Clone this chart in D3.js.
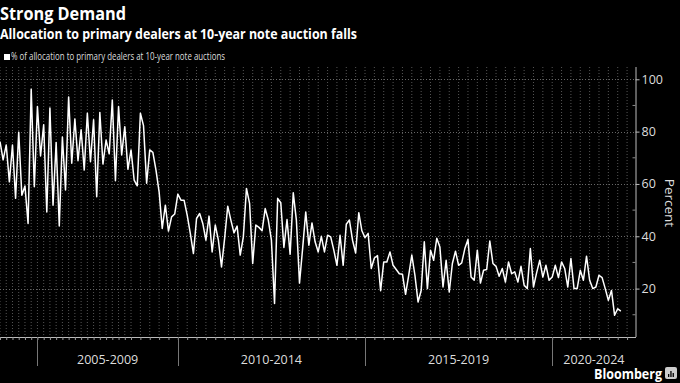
<!DOCTYPE html>
<html>
<head>
<meta charset="utf-8">
<script src="https://cdn.jsdelivr.net/npm/d3@7"></script>
<style>
  html, body { margin: 0; padding: 0; background: #000; }
  svg { display: block; }
  text { font-family: "Open Sans", "DejaVu Sans", sans-serif; }
</style>
</head>
<body>
<svg id="chart" width="680" height="383"></svg>
<script>
// ---- data ----
const title = "Strong Demand";
const subtitle = "Allocation to primary dealers at 10-year note auction falls";
const seriesName = "% of allocation to primary dealers at 10-year note auctions";
const periods = ["2005-2009", "2010-2014", "2015-2019", "2020-2024"];
// auction index at which each period starts
const periodStartIndex = [12, 57, 117, 177];
const lastAxisIndex = 203.7;
const yTicks = [20, 40, 60, 80, 100];
const yMinorTicks = [10, 30, 50, 70, 90];
// quarterly date ticks expressed as auction indices (8 auctions/yr before 2009, 12/yr after)
const quarterTicks = d3.range(0, 44, 2).concat(d3.range(45, 204, 3));
// % of allocation to primary dealers, one per auction
const allocation = [
  76.2, 69.2, 74.9, 60.8, 74.9, 54.5, 79.8, 55.7, 59.2, 44.9,
  96.2, 58.9, 89.6, 70.7, 82.6, 49.3, 89.0, 51.9, 75.8, 43.9,
  77.9, 57.7, 93.2, 67.9, 84.8, 68.9, 80.7, 65.3, 87.0, 68.5,
  84.5, 55.1, 87.3, 67.6, 76.8, 71.5, 92.1, 61.2, 89.6, 71.1,
  81.9, 65.6, 73.0, 61.5, 59.3, 87.0, 82.3, 60.3, 73.0, 72.1,
  65.3, 57.0, 43.0, 51.9, 42.0, 47.4, 48.5, 56.1, 53.8, 53.8,
  48.1, 41.1, 33.4, 46.8, 48.7, 44.9, 38.5, 47.7, 34.0, 44.3,
  38.5, 28.3, 39.2, 51.5, 46.2, 41.3, 43.9, 32.8, 39.8, 58.3,
  52.6, 29.6, 44.3, 43.4, 42.1, 50.6, 46.2, 38.5, 14.3, 54.5,
  52.8, 35.7, 46.4, 33.1, 56.6, 46.2, 22.1, 35.3, 49.3, 36.6,
  45.1, 37.9, 34.0, 40.0, 34.0, 40.4, 39.8, 34.7, 28.9, 40.4,
  28.9, 44.6, 46.2, 38.5, 33.6, 49.0, 42.1, 39.5, 41.1, 27.7,
  31.7, 32.6, 19.2, 30.2, 30.2, 34.0, 28.9, 27.3, 25.7, 25.5,
  17.8, 25.1, 32.8, 25.1, 14.9, 19.3, 37.9, 20.0, 34.7, 30.8,
  39.2, 35.9, 20.6, 30.8, 18.7, 29.6, 34.3, 28.9, 29.8, 35.3,
  38.8, 24.4, 23.2, 34.7, 22.1, 27.0, 27.3, 38.2, 29.6, 28.5,
  24.7, 27.7, 22.5, 30.2, 25.7, 26.4, 22.5, 28.5, 21.3, 20.0,
  35.3, 20.6, 26.0, 30.8, 24.4, 28.9, 23.2, 24.4, 28.9, 24.2,
  30.2, 27.7, 20.6, 31.5, 20.0, 20.0, 27.0, 23.2, 32.4, 23.2,
  20.0, 20.6, 25.1, 24.2, 20.0, 15.5, 19.3, 9.8, 12.3, 11.4
];

// ---- layout ----
const svg = d3.select("#chart");
const plotLeft = 0, plotRight = 635.5, plotTop = 67, plotBottom = 337;

const x = d3.scaleLinear().domain([0, lastAxisIndex]).range([plotLeft, plotRight]);
const y = d3.scaleLinear().domain([1.5, 104.7]).range([plotBottom, plotTop]);

svg.append("rect").attr("width", 680).attr("height", 383).attr("fill", "#000");

// titles
svg.append("text").attr("x", 0).attr("y", 20).text(title)
  .attr("fill", "#fff").attr("font-weight", "bold").attr("font-size", 18.5)
  .attr("textLength", 126).attr("lengthAdjust", "spacingAndGlyphs");
svg.append("text").attr("x", 0).attr("y", 39).text(subtitle)
  .attr("fill", "#fff").attr("font-weight", "bold").attr("font-size", 14)
  .attr("textLength", 357).attr("lengthAdjust", "spacingAndGlyphs");

// legend
svg.append("rect").attr("x", 4).attr("y", 54).attr("width", 6).attr("height", 6).attr("fill", "#fff");
svg.append("text").attr("x", 11).attr("y", 60).text(seriesName)
  .attr("fill", "#ddd").attr("font-size", 10.5)
  .attr("textLength", 214).attr("lengthAdjust", "spacingAndGlyphs");

// vertical quarterly gridlines
svg.append("g").selectAll("line").data(quarterTicks).join("line")
  .attr("x1", d => x(d)).attr("x2", d => x(d))
  .attr("y1", plotTop).attr("y2", plotBottom)
  .attr("stroke", "#555").attr("stroke-width", 1).attr("stroke-dasharray", "1,2");

// horizontal gridlines
svg.append("g").selectAll("line").data(yTicks).join("line")
  .attr("x1", plotLeft).attr("x2", plotRight)
  .attr("y1", d => Math.round(y(d)) + 0.5).attr("y2", d => Math.round(y(d)) + 0.5)
  .attr("stroke", "#666").attr("stroke-width", 1).attr("stroke-dasharray", "1,2");

// right y axis
const yAxis = d3.axisRight(y).tickValues(yTicks).tickSize(4).tickPadding(2);
const gy = svg.append("g").attr("transform", `translate(${plotRight},0)`).call(yAxis);
gy.select(".domain").attr("stroke", "#bbb").attr("d", `M0.5,${plotTop}V${plotBottom}`);
gy.selectAll(".tick line").attr("stroke", "#bbb");
gy.selectAll(".tick text").attr("fill", "#ddd").attr("font-size", 12.5)
  .attr("font-family", "Open Sans, sans-serif");
svg.append("g").selectAll("line").data(yMinorTicks).join("line")
  .attr("x1", plotRight - 3).attr("x2", plotRight)
  .attr("y1", d => y(d)).attr("y2", d => y(d))
  .attr("stroke", "#888");

svg.append("text").text("Percent")
  .attr("transform", `translate(665,203) rotate(90)`)
  .attr("text-anchor", "middle").attr("fill", "#ddd").attr("font-size", 13.5);

// x axis
const xAxis = d3.axisBottom(x).tickValues(quarterTicks).tickSize(3).tickFormat("");
const gx = svg.append("g").attr("transform", `translate(0,${plotBottom})`).call(xAxis);
gx.select(".domain").attr("stroke", "#bbb").attr("d", `M${plotLeft},0.5H${plotRight + 0.5}`);
gx.selectAll(".tick line").attr("stroke", "#999");

// period separators
svg.append("g").selectAll("line").data(periodStartIndex).join("line")
  .attr("x1", d => Math.round(x(d)) + 0.5).attr("x2", d => Math.round(x(d)) + 0.5)
  .attr("y1", plotBottom).attr("y2", plotBottom + 29)
  .attr("stroke", "#777");

// period labels centered between separators
const bounds = periodStartIndex.concat([lastAxisIndex]);
svg.append("g").selectAll("text").data(periods).join("text")
  .attr("x", (d, i) => (x(bounds[i]) + x(bounds[i + 1])) / 2)
  .attr("y", 364)
  .attr("text-anchor", "middle").attr("fill", "#ddd").attr("font-size", 12.5)
  .text(d => d);

// line
const line = d3.line().x((d, i) => x(i)).y(d => y(d));
svg.append("path").datum(allocation)
  .attr("d", line).attr("fill", "none")
  .attr("stroke", "#fff").attr("stroke-width", 1.5).attr("stroke-linejoin", "round");

// Bloomberg logo
svg.append("text").attr("x", 662).attr("y", 379).attr("text-anchor", "end")
  .attr("fill", "#fff").attr("font-weight", "bold").attr("font-size", 14)
  .attr("textLength", 68).attr("lengthAdjust", "spacingAndGlyphs")
  .text("Bloomberg");
const logo = svg.append("g").attr("transform", "translate(665,367)");
logo.append("rect").attr("width", 12).attr("height", 12).attr("rx", 2).attr("fill", "#ccc");
logo.selectAll("rect.bar").data([3, 6, 4]).join("rect").attr("class", "bar")
  .attr("x", (d, i) => 3 + i * 2.3).attr("y", d => 10 - d)
  .attr("width", 1.3).attr("height", d => d).attr("fill", "#000");
</script>
</body>
</html>
